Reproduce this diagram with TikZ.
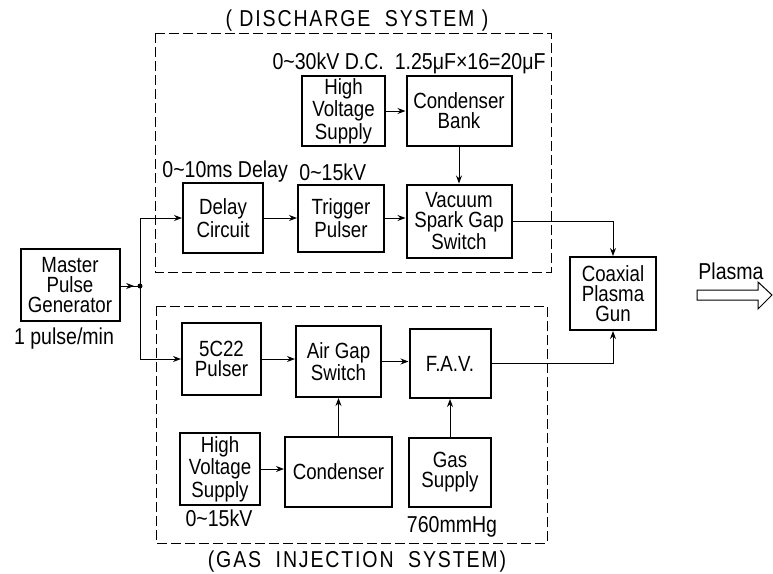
\documentclass[tikz,border=0pt]{standalone}
\usepackage{fontspec}
\setmainfont{Liberation Sans}[FakeStretch=0.85]
\usetikzlibrary{arrows.meta,calc}
\begin{document}
\begin{tikzpicture}[x=0.5pt,y=-0.5pt,
  blk/.style={draw,line width=1pt,align=center,inner sep=0pt,font=\fontsize{11}{10}\selectfont},
  lbl/.style={inner sep=0pt,font=\fontsize{11.5}{12}\selectfont},
  ttl/.style={inner sep=0pt,font=\fontsize{11.5}{12}\selectfont\addfontfeature{LetterSpace=8}},
  conn/.style={line width=0.5pt,-{Stealth[length=4pt,width=3pt]}},
  wire/.style={line width=0.5pt},
  sysbox/.style={line width=0.5pt,dash pattern=on 5pt off 2pt}]
\useasboundingbox (0,0) rectangle (773,574);

% system frames
\draw[sysbox] (155,33) rectangle (551,272);
\draw[sysbox] (156,306) rectangle (547,543);

% blocks
\node[blk,minimum width=49.5pt,minimum height=36pt] (mpg) at (70,285) {Master\\Pulse\\Generator};
\node[blk,minimum width=41.5pt,minimum height=35pt] (hv1) at (343.5,111) {High\\Voltage\\Supply};
\node[blk,minimum width=52.5pt,minimum height=35pt] (cb) at (459,111) {Condenser\\Bank};
\node[blk,minimum width=40pt,minimum height=35pt] (dly) at (223,218) {Delay\\Circuit};
\node[blk,minimum width=43pt,minimum height=33.5pt] (trg) at (341,218) {Trigger\\Pulser};
\node[blk,minimum width=52.5pt,minimum height=36.5pt] (vsg) at (459,221) {Vacuum\\Spark Gap\\Switch};
\node[blk,minimum width=43pt,minimum height=36.5pt] (coax) at (613,293.5) {Coaxial\\Plasma\\Gun};
\node[blk,minimum width=39.5pt,minimum height=36pt] (p5c) at (221.5,359) {5C22\\Pulser};
\node[blk,minimum width=42.5pt,minimum height=35.5pt] (agp) at (338.5,361.5) {Air Gap\\Switch};
\node[blk,minimum width=40.5pt,minimum height=34.5pt] (fav) at (450,363.5) {F.A.V.};
\node[blk,minimum width=40pt,minimum height=36pt] (hv2) at (220,469) {High\\Voltage\\Supply};
\node[blk,minimum width=53.5pt,minimum height=35pt] (cnd) at (338.5,472) {Condenser};
\node[blk,minimum width=41pt,minimum height=34.5pt] (gas) at (450,472.5) {Gas\\Supply};

% junction
\coordinate (j) at (140,286);
\draw[wire] (mpg.east |- j) -- (j);
\draw[conn] (mpg.east |- j) -- ($(mpg.east |- j)!0.7!(j)$);
\fill (j) circle (2.5);

% connectors
\draw[conn] (j) |- (dly.west);
\draw[conn] (j) |- (p5c.west);
\draw[conn] (dly) -- (trg);
\draw[conn] (trg.east) -- (trg.east -| vsg.west);
\draw[conn] (hv1) -- (cb);
\draw[conn] (cb) -- (vsg);
\draw[conn] (vsg.east) -| (coax.north);
\draw[conn] (p5c.east) -- (p5c.east -| agp.west);
\draw[conn] (agp.east) -- (agp.east -| fav.west);
\draw[conn] (fav.east) -| (coax.south);
\draw[conn] (hv2.east) -- (hv2.east -| cnd.west);
\draw[conn] (cnd) -- (agp);
\draw[conn] (gas) -- (fav);

% labels
\node[ttl] (t1) at (357,21) {( DISCHARGE\ \ SYSTEM )};
\node[lbl,anchor=east] (l1) at (546,63) {0\textasciitilde30kV D.C.\ \ 1.25μF×16=20μF};
\node[lbl,anchor=west] (l2) at (162,172) {0\textasciitilde10ms Delay};
\node[lbl,anchor=west] (l3) at (299,172) {0\textasciitilde15kV};
\node[lbl] (l4) at (64,339) {1 pulse/min};
\node[lbl] (l5) at (731,271) {Plasma};
\node[lbl] (l6) at (219,518) {0\textasciitilde15kV};
\node[lbl] (l7) at (452,527) {760mmHg};
\node[ttl] (t2) at (357,562) {(GAS\ \ INJECTION\ \ SYSTEM)};

% plasma output arrow
\draw[line width=0.5pt] (697,290) -- (758,290) -- (758,282) -- (772,295) -- (758,309) -- (758,300) -- (697,300) -- cycle;
\end{tikzpicture}
\end{document}
